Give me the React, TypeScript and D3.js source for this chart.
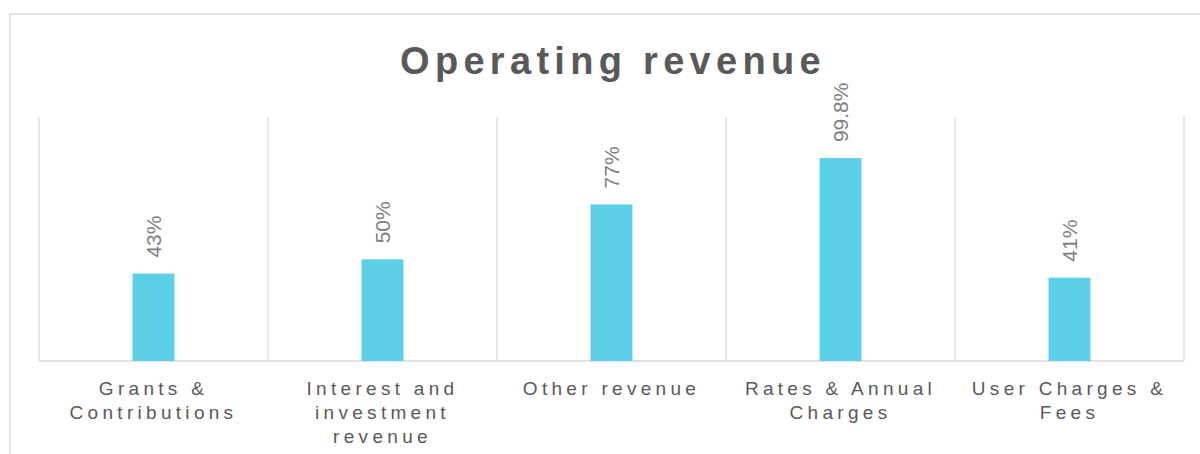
import React, { useMemo } from "react";
import * as d3 from "d3";

const categories = [
  "Grants & Contributions",
  "Interest and investment revenue",
  "Other revenue",
  "Rates & Annual Charges",
  "User Charges & Fees",
];
const values = [43, 50, 77, 99.8, 41];
const valueLabels = ["43%", "50%", "77%", "99.8%", "41%"];
const title = "Operating revenue";

const W = 1200;
const H = 454;
const plot = { left: 39, right: 1184, top: 117, bottom: 361 };
const yMax = 120;

const catFont = "19px 'Liberation Sans', Arial, sans-serif";
const catSpacing = 4.3;

function wrap(text: string, maxW: number): string[] {
  const canvas = document.createElement("canvas");
  const ctx = canvas.getContext("2d")!;
  ctx.font = catFont;
  const measure = (s: string) => ctx.measureText(s).width + s.length * catSpacing;
  const words = text.split(" ");
  const lines: string[] = [];
  let cur = "";
  for (const w of words) {
    const test = cur ? cur + " " + w : w;
    if (measure(test) > maxW && cur) {
      lines.push(cur);
      cur = w;
    } else cur = test;
  }
  if (cur) lines.push(cur);
  return lines;
}

export default function App() {
  const x = d3.scaleBand<string>().domain(categories).range([plot.left, plot.right]).padding(0);
  const y = d3.scaleLinear().domain([0, yMax]).range([plot.bottom, plot.top]);
  const barW = x.bandwidth() * 0.183;
  const wrapped = useMemo(() => categories.map((c) => wrap(c, 205)), []);
  const grid = "#d9d9d9";

  return (
    <svg
      width={W}
      height={H}
      style={{ position: "absolute", left: 0, top: 0, background: "#fff" }}
      fontFamily="'Liberation Sans', Arial, sans-serif"
    >
      <rect x={10} y={14} width={1230} height={480} fill="#fff" stroke={grid} strokeWidth={1.3} />
      <text
        x={613}
        y={74}
        textAnchor="middle"
        fontSize={38}
        fontWeight="bold"
        letterSpacing={5.3}
        fill="#595959"
      >
        {title}
      </text>
      {[...categories.map((c) => x(c)!), plot.right].map((gx, i) => (
        <line key={"g" + i} x1={gx} x2={gx} y1={plot.top} y2={plot.bottom} stroke={grid} strokeWidth={1.3} />
      ))}
      <line x1={plot.left} x2={plot.right} y1={plot.bottom} y2={plot.bottom} stroke={grid} strokeWidth={1.3} />
      {categories.map((c, i) => {
        const cx = x(c)! + x.bandwidth() / 2;
        const top = y(values[i]);
        return (
          <g key={c}>
            <rect x={cx - barW / 2} y={top} width={barW} height={y(0) - top} fill="#5bd0e6" />
            <text
              transform={`translate(${cx + 7.5},${top - 16}) rotate(-90)`}
              fontSize={21}
              fill="#7f7f7f"
            >
              {valueLabels[i]}
            </text>
            <text fontSize={19} letterSpacing={catSpacing} fill="#595959" textAnchor="middle">
              {wrapped[i].map((ln, j) => (
                <tspan key={j} x={cx} y={395 + j * 24}>
                  {ln}
                </tspan>
              ))}
            </text>
          </g>
        );
      })}
    </svg>
  );
}
